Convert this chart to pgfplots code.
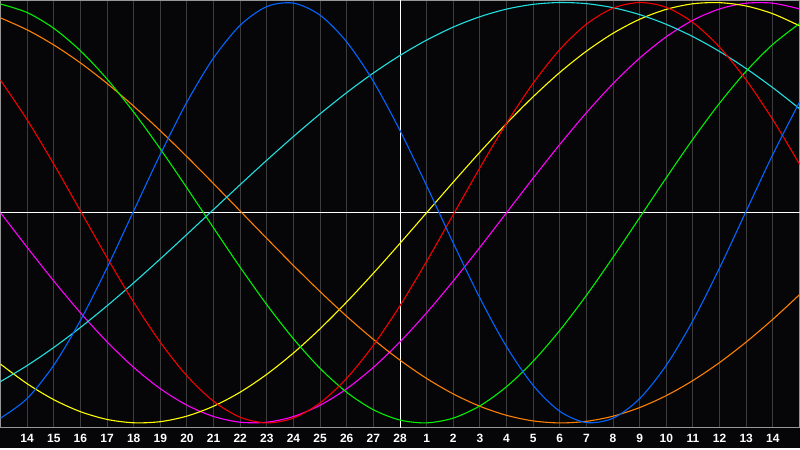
\documentclass[border=0pt]{standalone}
\usepackage{pgfplots}
\pgfplotsset{compat=1.18}
\usepackage{pgfplotstable}
\usepackage{fontspec}
\setmainfont{Liberation Sans}

\definecolor{bgc}{RGB}{6,6,9}
\definecolor{gridc}{RGB}{60,60,60}
\definecolor{framec}{RGB}{150,150,150}
\definecolor{cblue}{RGB}{0,102,255}
\definecolor{ccyan}{RGB}{32,224,224}
\definecolor{cgreen}{RGB}{0,240,0}
\definecolor{cred}{RGB}{245,0,0}
\definecolor{cyellow}{RGB}{255,255,0}
\definecolor{cmagenta}{RGB}{255,0,255}
\definecolor{corange}{RGB}{255,128,0}

% day index, then one column per cycle (23, 28, 33, 38, 43, 48, 53 days)
\pgfplotstableread{
i  phys     emo      intel    intu     aest     aware    spir
0  -0.9774  0.6306   0.9928   0        -0.7201  0.9268   -0.8034
1  -0.8841  0.4420   0.9522   -0.1646  -0.8134  0.8699   -0.7272
2  -0.7254  0.2312   0.8771   -0.3247  -0.8893  0.7981   -0.6410
3  -0.5126  0.0089   0.7705   -0.4759  -0.9464  0.7127   -0.5459
4  -0.2619  -0.2137  0.6359   -0.6142  -0.9833  0.6150   -0.4429
5  0.0082   -0.4258  0.4784   -0.7357  -0.9993  0.5068   -0.3337
6  0.2777   -0.6164  0.3036   -0.8372  -0.9940  0.3899   -0.2198
7  0.5266   -0.7763  0.1177   -0.9158  -0.9675  0.2664   -0.1030
8  0.7364   -0.8970  -0.0724  -0.9694  -0.9204  0.1383   0.0154
9  0.8917   -0.9729  -0.2597  -0.9966  -0.8536  0.0079   0.1336
10 0.9807   -1.0000  -0.4378  -0.9966  -0.7685  -0.1227  0.2499
11 0.9971   -0.9769  -0.6000  -0.9694  -0.6673  -0.2512  0.3626
12 0.9395   -0.9048  -0.7406  -0.9158  -0.5518  -0.3754  0.4703
13 0.8123   -0.7873  -0.8544  -0.8372  -0.4245  -0.4932  0.5714
14 0.6246   -0.6306  -0.9373  -0.7357  -0.2881  -0.6026  0.6646
15 0.3909   -0.4420  -0.9863  -0.6142  -0.1456  -0.7015  0.7481
16 0.1281   -0.2312  -0.9997  -0.4759  0        -0.7885  0.8212
17 -0.1444  -0.0089  -0.9769  -0.3247  0.1456   -0.8621  0.8831
18 -0.4059  0.2137   -0.9188  -0.1646  0.2881   -0.9208  0.9324
19 -0.6374  0.4258   -0.8276  0        0.4245   -0.9639  0.9686
20 -0.8216  0.6164   -0.7065  0.1646   0.5518   -0.9904  0.9912
21 -0.9449  0.7763   -0.5598  0.3247   0.6673   -1.0000  0.9999
22 -0.9982  0.8970   -0.3928  0.4759   0.7685   -0.9924  0.9946
23 -0.9774  0.9729   -0.2117  0.6142   0.8536   -0.9679  0.9753
24 -0.8841  1.0000   -0.0229  0.7357   0.9204   -0.9268  0.9423
25 -0.7254  0.9769   0.1668   0.8372   0.9675   -0.8699  0.8960
26 -0.5126  0.9048   0.3504   0.9158   0.9940   -0.7981  0.8373
27 -0.2619  0.7873   0.5213   0.9694   0.9993   -0.7127  0.7669
28 0.0082   0.6306   0.6734   0.9966   0.9833   -0.6150  0.6855
29 0.2777   0.4420   0.8011   0.9966   0.9464   -0.5068  0.5944
30 0.5266   0.2312   0.9000   0.9694   0.8893   -0.3899  0.4951
}\cycles

\begin{document}
\begin{tikzpicture}
\fill[bgc] (0,-10pt) rectangle (400pt,214pt);
\begin{axis}[
    at={(0,0)}, anchor=south west,
    scale only axis,
    width=400pt, height=214pt,
    xmin=0, xmax=30,
    ymin=-1.024, ymax=1.0095,
    axis background/.style={fill=bgc},
    axis line style={framec, line width=0.5pt},
    xtick={1,...,29},
    xticklabels={14,15,16,17,18,19,20,21,22,23,24,25,26,27,28,1,2,3,4,5,6,7,8,9,10,11,12,13,14},
    ytick=\empty,
    major tick length=0pt,
    xmajorgrids,
    grid style={gridc, line width=0.5pt},
    xticklabel style={anchor=base, yshift=-7.5pt, text=white,
        font=\fontsize{6}{7}\selectfont\bfseries},
    every axis plot/.append style={smooth, line width=0.55pt, mark=none},
]
\addplot[white, line width=0.5pt, sharp plot] coordinates {(0,0) (30,0)};
\addplot[white, line width=0.5pt, sharp plot] coordinates {(15,-1.024) (15,1.0095)};
\addplot[cmagenta] table[x=i, y=intu] {\cycles};
\addplot[cyellow] table[x=i, y=aest] {\cycles};
\addplot[corange] table[x=i, y=aware] {\cycles};
\addplot[ccyan] table[x=i, y=spir] {\cycles};
\addplot[cgreen] table[x=i, y=intel] {\cycles};
\addplot[cred] table[x=i, y=emo] {\cycles};
\addplot[cblue] table[x=i, y=phys] {\cycles};
\end{axis}
\end{tikzpicture}
\end{document}
